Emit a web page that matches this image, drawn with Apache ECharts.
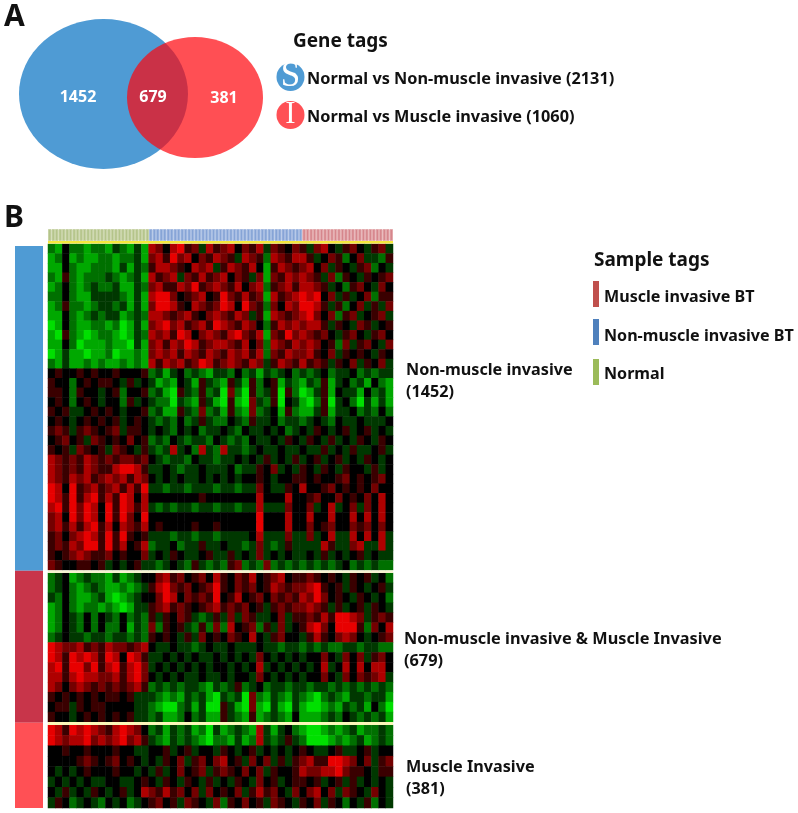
<!DOCTYPE html>
<html><head><meta charset="utf-8">
<script src="https://cdn.jsdelivr.net/npm/echarts@6/dist/echarts.min.js"></script>
<style>html,body{margin:0;padding:0;background:#fff}#c{width:798px;height:813px}</style>
</head><body><div id="c"></div>
<script>
// Gene counts (panel A and left annotation bar)
const geneClusters = ['Non-muscle invasive', 'Non-muscle invasive & Muscle Invasive', 'Muscle Invasive'];
const geneCounts = [1452, 679, 381];
const geneTags = ['Normal vs Non-muscle invasive (2131)', 'Normal vs Muscle invasive (1060)'];
// Samples per group along the top bar
const sampleGroups = ['Normal', 'Non-muscle invasive BT', 'Muscle invasive BT'];
const sampleCounts = [29, 44, 26];
// Expression levels: 0 = bright green, 4 = black, 8 = bright red
// columns: 14 normal, 21 non-muscle invasive, 13 muscle invasive
const heatNonMuscle = [
[2,1,4,2,2,1,2,2,1,3,2,1,3,1,7,6,4,7,8,5,6,3,7,5,6,7,4,6,5,7,3,6,5,4,6,5,3,6,7,4,3,5,6,4,3,5,6,3],
[1,2,4,1,2,1,1,2,2,1,2,2,3,1,6,7,5,8,6,7,4,6,5,7,6,5,3,7,6,5,2,7,6,5,7,7,5,3,4,6,5,2,4,6,3,3,2,5],
[1,1,4,2,1,1,2,2,2,1,3,1,3,2,5,7,7,6,5,4,7,6,7,3,5,7,6,5,7,4,1,5,7,6,5,6,7,4,6,3,5,4,3,5,6,2,4,3],
[2,1,5,2,1,2,2,2,3,2,1,2,3,1,7,5,6,7,3,6,5,7,5,6,7,4,6,5,3,6,1,6,5,7,6,7,6,5,3,6,2,5,4,3,5,4,5,6],
[1,2,4,2,1,2,3,2,2,3,1,1,3,2,6,7,5,5,7,6,8,5,6,7,6,5,7,4,6,7,2,5,6,7,5,7,7,6,5,3,4,2,5,6,4,3,6,4],
[2,2,4,2,1,1,3,3,3,3,2,1,3,1,7,8,8,6,4,5,6,7,4,5,8,6,5,7,5,6,1,7,5,6,7,8,7,8,4,6,3,5,3,4,6,2,5,5],
[1,2,5,2,2,1,2,3,3,2,3,1,3,1,6,8,8,7,5,4,7,6,5,6,8,7,4,8,6,5,2,6,4,7,6,8,8,7,5,3,5,2,4,6,3,5,3,6],
[1,1,4,2,1,2,3,2,3,3,1,2,3,2,7,7,6,5,6,7,5,4,6,7,6,5,7,6,3,5,1,7,6,5,6,7,8,6,4,6,2,5,6,3,4,5,6,3],
[0,1,4,2,1,1,2,2,1,2,0,1,3,1,6,7,8,6,7,5,6,7,5,8,7,6,5,7,6,4,2,5,7,6,7,6,7,7,5,3,5,4,3,6,5,3,4,5],
[1,0,5,2,1,0,1,2,2,1,0,1,3,2,7,6,7,5,8,7,4,6,7,6,5,7,8,6,5,7,1,6,5,8,6,7,6,5,6,4,3,5,6,4,3,5,6,4],
[1,1,4,2,0,1,1,1,2,1,1,0,3,1,6,7,5,7,6,8,7,5,6,7,7,6,5,7,4,6,2,7,6,5,7,6,7,6,4,5,2,6,3,5,6,4,3,6],
[0,1,3,1,1,0,1,1,2,0,1,1,2,1,6,7,6,7,5,7,6,5,7,6,5,7,6,7,5,7,2,6,5,7,6,6,7,5,4,6,3,5,4,5,4,3,5,4],
[2,1,3,1,1,2,1,2,1,1,2,1,2,1,7,5,7,6,7,5,6,8,7,5,6,7,6,5,7,6,3,5,7,6,5,7,5,6,5,3,5,4,6,3,5,4,6,3],
[4,5,4,4,5,4,5,4,4,5,4,4,4,5,2,3,1,3,4,2,3,2,1,3,3,2,4,2,3,1,3,2,3,4,2,3,2,3,4,2,3,3,4,2,3,2,3,3],
[5,4,4,2,4,5,4,5,5,4,3,5,3,4,3,1,2,1,4,3,1,5,3,2,1,5,3,1,5,2,4,5,1,3,2,1,3,2,5,1,3,4,2,3,1,4,2,1],
[5,5,4,2,5,4,4,3,4,5,2,4,4,5,2,3,1,0,5,3,2,5,2,3,0,6,2,0,5,2,3,5,0,5,2,0,1,3,5,1,4,3,3,1,4,2,3,1],
[4,5,4,2,4,5,4,3,4,4,2,5,3,4,3,2,2,0,3,2,1,5,3,1,0,5,1,0,6,3,2,5,0,4,3,1,0,2,5,0,3,4,2,0,3,1,3,1],
[5,4,5,3,3,4,5,4,5,4,3,4,4,5,2,3,1,1,5,3,2,6,2,3,1,5,2,1,6,2,3,4,1,5,2,1,1,3,5,1,3,3,4,2,3,2,4,2],
[4,5,4,3,4,5,4,5,4,5,3,4,5,4,3,2,3,2,4,2,3,5,3,2,2,4,3,2,5,3,3,4,2,3,3,2,3,4,3,2,4,3,3,4,3,3,3,4],
[5,6,5,3,5,6,5,4,5,6,3,5,5,4,3,4,3,2,4,3,4,2,3,3,4,3,2,4,3,3,4,3,4,2,3,4,3,5,4,3,4,5,3,4,5,3,4,3],
[4,5,6,4,5,3,6,5,4,5,4,6,4,5,2,3,2,4,3,2,3,3,2,4,3,2,3,2,4,3,3,4,3,5,4,3,5,4,3,5,3,4,3,5,4,3,5,4],
[5,4,5,3,6,5,4,5,3,6,5,4,3,5,3,2,3,7,3,4,2,7,3,2,7,3,3,2,3,4,3,3,4,3,3,4,3,3,5,3,4,3,5,3,3,4,5,3],
[7,6,5,6,5,7,6,5,6,5,6,6,5,6,4,3,2,3,3,2,4,3,3,2,3,3,4,3,4,3,5,3,4,3,5,3,4,5,3,4,5,3,4,3,5,4,3,4],
[7,6,5,6,5,7,6,5,5,7,8,8,7,5,3,3,4,3,2,3,3,4,3,3,3,4,2,3,3,5,4,6,3,4,3,5,4,3,5,4,3,5,4,4,3,5,3,4],
[7,6,5,7,6,7,5,6,7,6,7,5,7,6,4,3,4,3,4,3,3,4,3,4,3,4,3,4,4,5,4,3,4,4,5,5,4,5,4,4,5,6,4,5,4,5,6,4],
[8,7,4,8,5,6,7,5,6,7,5,7,5,8,3,3,2,3,3,2,3,3,3,2,3,3,2,3,3,6,4,3,3,5,4,7,4,4,5,6,4,5,4,5,4,6,4,4],
[8,7,5,8,5,7,8,5,7,5,8,7,4,7,4,4,4,4,4,4,4,5,4,4,4,4,4,4,4,7,4,4,4,7,4,4,5,6,4,4,6,4,5,4,6,4,7,4],
[7,8,5,8,6,8,7,4,8,5,8,7,5,7,3,2,3,2,3,3,2,3,3,2,3,3,2,3,3,7,3,3,3,6,4,4,6,3,4,7,3,4,6,3,6,4,7,4],
[6,7,4,8,6,8,7,4,8,5,8,6,4,8,4,4,4,4,4,4,4,4,4,4,4,4,4,4,4,8,4,4,4,7,4,4,7,4,4,7,4,4,7,4,7,4,7,4],
[6,7,5,7,5,7,8,5,7,4,7,6,5,7,4,5,4,4,4,4,5,4,4,5,4,4,4,4,4,8,4,4,4,7,4,4,6,4,5,6,4,4,6,5,6,4,6,4],
[5,6,4,6,7,8,7,5,8,5,8,5,4,5,3,3,3,2,3,3,2,3,3,2,3,3,3,3,4,7,3,3,3,6,3,3,6,3,4,7,3,3,7,4,7,4,7,3],
[5,6,5,7,6,8,8,5,8,5,7,4,5,7,2,3,3,4,2,3,3,5,3,3,4,3,3,2,3,6,3,2,3,5,3,3,3,3,7,5,3,3,6,7,3,3,7,3],
[5,4,5,6,7,6,5,5,6,4,5,4,4,6,3,4,3,5,4,3,3,4,5,3,3,5,3,4,3,6,3,4,3,4,3,3,4,3,5,3,4,3,4,5,3,4,3,3],
[6,5,4,4,5,5,4,5,3,4,3,4,5,3,3,2,3,4,3,2,5,3,2,3,2,5,6,2,3,2,6,2,3,2,3,2,3,2,3,2,3,4,2,3,2,3,2,2]
];
const heatBoth = [
[2,3,4,1,2,3,2,2,1,3,1,2,3,4,4,6,7,5,6,4,5,6,4,7,5,4,6,5,7,4,5,6,7,4,5,5,6,5,4,5,4,3,5,4,5,3,4,2],
[2,3,4,2,1,2,3,2,1,1,2,1,2,3,5,7,8,6,5,6,4,5,6,8,5,4,6,5,6,4,5,7,6,5,6,6,7,8,5,4,5,3,5,4,3,4,5,3],
[3,2,4,2,1,1,2,3,1,0,1,2,3,4,4,6,8,7,4,6,5,6,5,8,4,5,7,4,5,6,4,6,5,6,5,7,6,8,6,4,5,4,3,5,4,3,4,2],
[1,2,4,2,1,2,2,1,2,1,0,1,3,3,5,6,7,5,6,5,4,5,6,7,5,6,5,6,4,5,3,5,6,5,6,6,7,6,5,3,5,3,4,5,3,5,4,3],
[1,2,4,3,2,4,2,4,3,2,4,2,3,2,5,3,5,4,6,5,3,2,3,5,3,6,3,6,5,3,3,4,6,3,5,5,6,5,7,5,8,8,7,6,3,5,6,5],
[1,2,4,3,2,4,2,4,2,2,4,1,3,2,6,2,5,4,5,3,2,5,2,6,2,7,4,5,6,2,5,3,6,3,4,5,7,8,6,4,8,8,8,5,2,6,4,7],
[2,3,4,3,3,2,3,3,2,3,3,2,3,2,5,4,5,4,3,5,3,6,4,5,4,6,5,4,7,4,3,5,6,4,4,3,5,7,5,4,6,7,6,4,3,4,5,6],
[8,7,6,6,7,5,6,5,7,6,6,5,6,7,4,3,3,4,3,3,2,3,4,3,3,4,3,3,3,4,3,3,2,3,3,2,3,2,3,2,2,3,3,2,3,3,2,2],
[8,7,5,8,7,8,7,5,8,7,4,8,7,5,3,3,4,3,4,3,4,3,3,4,3,4,3,4,3,6,4,3,4,3,4,3,4,4,6,4,3,6,4,6,3,5,6,4],
[7,8,5,8,8,6,8,5,7,8,5,7,8,6,3,4,3,4,3,4,3,4,3,4,4,3,4,3,4,7,3,4,3,4,3,4,3,4,7,3,4,7,4,7,4,7,7,4],
[7,7,5,7,8,7,7,6,6,7,5,7,8,6,4,3,4,3,4,3,3,4,3,3,4,3,4,4,3,6,4,3,4,3,4,3,4,4,6,4,3,6,4,6,5,6,7,3],
[7,6,4,6,7,6,5,6,5,6,5,6,7,5,2,3,2,3,2,3,3,2,1,3,2,3,5,2,3,4,2,3,3,2,3,3,2,3,3,2,3,2,3,2,3,2,3,2],
[5,4,5,4,5,4,5,4,5,5,4,5,3,3,3,2,1,2,1,3,2,3,1,0,3,2,3,0,6,2,1,3,2,1,3,2,1,0,2,3,2,1,3,3,2,3,3,1],
[4,5,5,3,5,4,5,5,4,4,4,4,3,3,2,1,0,0,2,3,1,3,0,0,5,3,1,0,6,1,0,3,1,0,3,1,0,0,1,2,1,3,2,3,1,4,2,0],
[5,4,4,3,4,5,4,5,4,5,4,5,3,3,2,3,1,1,2,4,2,3,1,1,5,3,2,1,5,1,2,3,2,1,4,1,1,1,2,3,2,4,3,2,3,2,3,1]
];
const heatMuscle = [
[8,7,5,8,7,8,7,6,5,7,8,7,6,4,2,3,1,3,2,3,1,2,0,3,1,2,3,2,1,7,3,1,3,4,2,1,0,0,1,2,1,2,3,1,2,2,3,2],
[8,7,6,7,7,8,6,7,6,7,8,6,7,5,3,2,1,3,2,3,2,1,0,2,2,1,3,1,2,7,3,2,3,5,3,2,0,0,0,1,2,1,2,3,1,2,3,2],
[4,4,5,4,4,5,4,4,4,5,4,4,3,3,4,4,5,3,4,5,3,4,4,3,5,4,3,4,5,3,4,3,4,3,4,5,4,3,3,4,5,3,3,4,5,3,4,4],
[4,4,4,4,5,6,5,4,5,6,4,5,4,3,4,3,5,4,6,3,5,6,4,6,7,4,5,3,6,4,6,3,5,3,5,6,7,5,5,8,8,7,6,4,6,3,5,6],
[4,3,4,3,4,5,4,4,4,5,4,4,3,4,3,5,3,4,6,4,5,6,3,5,6,5,4,6,4,6,3,5,4,4,5,7,6,6,7,7,8,6,5,5,4,3,5,5],
[3,4,3,4,3,4,3,3,4,4,3,3,4,5,4,3,5,4,3,5,4,3,5,3,4,3,5,4,3,6,4,5,3,4,5,5,4,5,3,4,5,3,5,3,4,3,4,3],
[4,3,5,3,4,3,5,4,3,4,5,3,4,7,6,5,7,5,6,4,6,3,6,4,5,4,6,3,5,7,5,6,4,3,6,4,6,7,4,6,3,6,5,4,3,6,4,3],
[3,5,4,2,3,4,3,2,4,3,4,2,3,4,5,6,4,5,3,6,5,4,3,6,2,5,4,6,4,5,3,6,5,4,3,5,4,6,3,5,4,2,4,3,5,2,4,3]
];

const FONT = '"Noto Sans", sans-serif';
const heatClusters = [heatNonMuscle, heatBoth, heatMuscle];
const heatBoxes = [[244, 326], [573, 149], [725, 83]];
const clusterColors = ['#4f9bd4', '#c8354a', '#ff5055'];
const groupColors = [['#b4c48a', '#c8d3a6'], ['#86a4d6', '#a6bce2'], ['#d6868c', '#e3a9ac']];

const grids = [], xAxes = [], yAxes = [], series = [];
function addAxes(x, y) {
  const i = grids.length;
  xAxes.push(Object.assign({ gridIndex: i, show: false }, x));
  yAxes.push(Object.assign({ gridIndex: i, show: false }, y));
  return i;
}
heatClusters.forEach((rows, c) => {
  const i = addAxes(
    { type: 'category', data: rows[0].map((_, k) => k) },
    { type: 'category', inverse: true, data: rows.map((_, k) => k) });
  grids.push({ left: 48, width: 345, top: heatBoxes[c][0], height: heatBoxes[c][1] });
  const data = [];
  rows.forEach((row, r) => row.forEach((v, k) => data.push([k, r, v])));
  series.push({ type: 'heatmap', xAxisIndex: i, yAxisIndex: i, data, silent: true, progressive: 0, animation: false });
});

// top sample bar
const sampleCats = [], sampleData = [];
sampleCounts.forEach((n, g) => {
  for (let s = 0; s < n; s++) {
    sampleCats.push(sampleGroups[g] + ' ' + (s + 1));
    sampleData.push({ value: 1, itemStyle: { color: groupColors[g][0], borderColor: groupColors[g][1], borderWidth: 1 } });
  }
});
let gi = addAxes({ type: 'category', data: sampleCats }, { type: 'value', min: 0, max: 1 });
grids.push({ left: 48, width: 345, top: 229, height: 12 });
series.push({ type: 'bar', xAxisIndex: gi, yAxisIndex: gi, data: sampleData, barWidth: '100%', silent: true, animation: false });

// left gene cluster bar
gi = addAxes({ type: 'category', data: ['genes'] }, { type: 'value', inverse: true, min: 0, max: geneCounts.reduce((a, b) => a + b, 0) });
grids.push({ left: 15, width: 28, top: 246, height: 562 });
geneClusters.forEach((name, k) => series.push({
  type: 'bar', name, xAxisIndex: gi, yAxisIndex: gi, stack: 'genes', barWidth: '100%', silent: true, animation: false,
  data: [geneCounts[k]], itemStyle: { color: clusterColors[k] }
}));

// overlay for the Venn diagram and tag markers
gi = addAxes({ type: 'value', min: 0, max: 798 }, { type: 'value', inverse: true, min: 0, max: 813 });
grids.push({ left: 0, top: 0, width: 798, height: 813 });
const ELLIPSE = 'path://M0 -1A1 1 0 1 1 0 1A1 1 0 1 1 0 -1Z';
const overlay = (data, extra) => Object.assign({ type: 'scatter', xAxisIndex: gi, yAxisIndex: gi, data, silent: true, animation: false, clip: false }, extra);
series.push(overlay([[103.5, 94]], { symbol: ELLIPSE, symbolSize: [169, 150], itemStyle: { color: '#4f9bd4', opacity: 1 }, z: 3 }));
series.push(overlay([[195, 97.5]], { symbol: ELLIPSE, symbolSize: [136, 121], itemStyle: { color: 'rgba(255,4,12,0.7)', opacity: 1 }, z: 4 }));
const numLabel = { show: true, position: 'inside', color: '#fff', fontFamily: FONT, fontWeight: 'bold', fontSize: 16 };
const hidden = { color: 'rgba(0,0,0,0)', opacity: 1 };
series.push(overlay([[78, 97]], { symbolSize: 2, itemStyle: hidden, z: 5, label: Object.assign({ formatter: String(geneCounts[0]) }, numLabel) }));
series.push(overlay([[153, 97]], { symbolSize: 2, itemStyle: hidden, z: 5, label: Object.assign({ formatter: String(geneCounts[1]) }, numLabel) }));
series.push(overlay([[224, 98]], { symbolSize: 2, itemStyle: hidden, z: 5, label: Object.assign({ formatter: String(geneCounts[2]) }, numLabel) }));
const tagLabel = { show: true, position: 'inside', color: '#fff', fontFamily: '"Liberation Serif", serif' };
series.push(overlay([[290.5, 77]], { symbol: 'circle', symbolSize: 28, itemStyle: { color: '#4f9bd4', opacity: 1 }, z: 3, label: Object.assign({ formatter: 'S', fontSize: 35 }, tagLabel) }));
series.push(overlay([[290.5, 115]], { symbol: 'circle', symbolSize: 28, itemStyle: { color: '#ff5055', opacity: 1 }, z: 3, label: Object.assign({ formatter: 'I', fontSize: 31 }, tagLabel) }));

const txt = (x, y, text, size) => ({
  type: 'text', x, y, silent: true, z: 20,
  style: { text, fill: '#111', font: 'bold ' + size + 'px ' + FONT, textVerticalAlign: 'middle', verticalAlign: 'middle' }
});
const rect = (x, y, w, h, fill) => ({ type: 'rect', silent: true, z: 19, shape: { x, y, width: w, height: h }, style: { fill } });

const graphic = [
  txt(4, 17, 'A', 30), txt(4, 218, 'B', 30),
  txt(293, 42, 'Gene tags', 19),
  txt(307, 79, geneTags[0], 16.3), txt(307, 117, geneTags[1], 16.3),
  txt(594, 261, 'Sample tags', 19),
  rect(593, 281, 6, 26, '#c0504d'), rect(593, 319, 6, 26, '#4f81bd'), rect(593, 359, 6, 26, '#9bbb59'),
  txt(604, 297, sampleGroups[2], 16.1), txt(604, 336, sampleGroups[1], 16.1), txt(604, 374, sampleGroups[0], 16.1),
  txt(406, 370, geneClusters[0], 16.2), txt(406, 392, '(' + geneCounts[0] + ')', 16.2),
  txt(404, 639, geneClusters[1], 16.3), txt(404, 661, '(' + geneCounts[1] + ')', 16.3),
  txt(406, 767, geneClusters[2], 16.2), txt(406, 789, '(' + geneCounts[2] + ')', 16.2),
  rect(48, 241, 345, 2.5, '#f4e83c'), rect(48, 570.5, 345, 2.5, '#f5f2d0'), rect(48, 722, 345, 3, '#fbf7b8')
];

const chart = echarts.init(document.getElementById('c'), null, { renderer: 'canvas' });
chart.setOption({
  animation: false, backgroundColor: '#fff', tooltip: { show: false }, legend: { show: false },
  grid: grids, xAxis: xAxes, yAxis: yAxes, series, graphic,
  visualMap: { show: false, min: 0, max: 8, seriesIndex: [0, 1, 2], dimension: 2, inRange: { color: ['#00e000', '#000000', '#e80000'] } }
});
</script></body></html>
